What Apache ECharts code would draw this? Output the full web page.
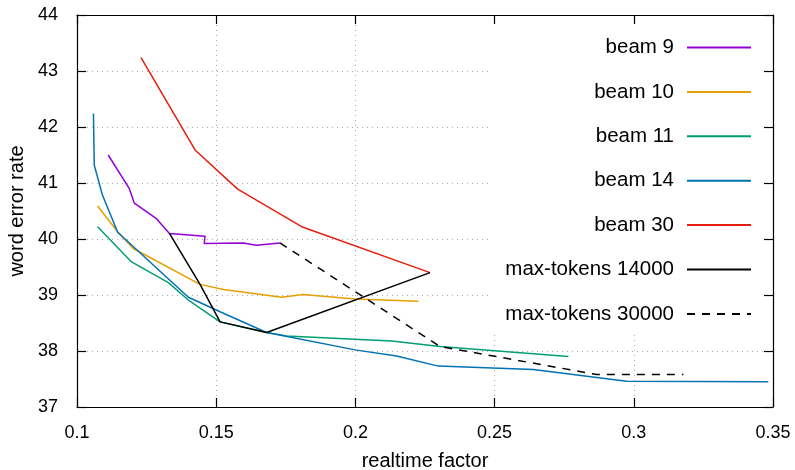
<!DOCTYPE html>
<html>
<head>
<meta charset="utf-8">
<script src="https://cdn.jsdelivr.net/npm/echarts@6/dist/echarts.min.js"></script>
<style>html,body{margin:0;padding:0;background:#fff}#c{width:795px;height:470px}</style>
</head>
<body>
<div id="c"></div>
<script>
const xTicks = [0.1, 0.15, 0.2, 0.25, 0.3, 0.35];
const yTicks = [37, 38, 39, 40, 41, 42, 43, 44];
const seriesNames = ['beam 9', 'beam 10', 'beam 11', 'beam 14', 'beam 30', 'max-tokens 14000', 'max-tokens 30000'];
const beam9 = [[0.1112,41.50],[0.1187,40.91],[0.1206,40.64],[0.1284,40.37],[0.1332,40.10],[0.1460,40.05],[0.1457,39.92],[0.1597,39.93],[0.1645,39.89],[0.1729,39.93]];
const beam10 = [[0.1074,40.59],[0.1146,40.13],[0.1202,39.83],[0.1442,39.19],[0.1526,39.10],[0.1735,38.96],[0.1811,39.01],[0.1999,38.93],[0.2226,38.89]];
const beam11 = [[0.1074,40.22],[0.1196,39.59],[0.1328,39.22],[0.1400,38.91],[0.1514,38.52],[0.1681,38.33],[0.1753,38.27],[0.2130,38.18],[0.2304,38.08],[0.2765,37.90]];
const beam14 = [[0.1059,42.24],[0.1062,41.32],[0.1091,40.79],[0.1146,40.12],[0.1400,38.96],[0.1514,38.70],[0.1681,38.33],[0.1999,38.02],[0.2148,37.91],[0.2298,37.73],[0.2639,37.67],[0.2974,37.46],[0.3483,37.45]];
const beam30 = [[0.1230,43.24],[0.1424,41.59],[0.1577,40.89],[0.1807,40.22],[0.2268,39.40]];
const maxTok14000 = [[0.1332,40.10],[0.1442,39.19],[0.1514,38.52],[0.1681,38.33],[0.2268,39.40]];
const maxTok30000 = [[0.1729,39.93],[0.2304,38.08],[0.2867,37.58],[0.3178,37.58]];

const colors = ['#9400d3', '#e69f00', '#009e73', '#0072b2', '#e51e10', '#000000', '#000000'];
const datas = [beam9, beam10, beam11, beam14, beam30, maxTok14000, maxTok30000];
const FONT = 'Liberation Sans, Arial, Helvetica, sans-serif';

const chart = echarts.init(document.getElementById('c'), null, {renderer: 'canvas'});
const xMin = xTicks[0], xMax = xTicks[xTicks.length - 1];
const yMin = yTicks[0], yMax = yTicks[yTicks.length - 1];
const frameAxis = {
  axisLine: {show: true, onZero: false, lineStyle: {color: '#000', width: 1.2}},
  axisTick: {show: true, inside: true, length: 9, lineStyle: {color: '#000', width: 1.2}},
  axisLabel: {show: false},
  splitLine: {show: false}
};
chart.setOption({
  animation: false,
  backgroundColor: '#fff',
  grid: {left: 77, right: 22, top: 15, bottom: 63, containLabel: false, outerBoundsMode: 'none'},
  xAxis: [
    {type: 'value', min: xMin, max: xMax, interval: 0.05, position: 'bottom',
     name: 'realtime factor', nameLocation: 'middle', nameGap: 44,
     nameTextStyle: {fontSize: 20, color: '#000', fontFamily: FONT},
     axisLine: {show: true, onZero: false, lineStyle: {color: '#000', width: 1.2}},
     axisTick: {show: true, inside: true, length: 9, lineStyle: {color: '#000', width: 1.2}},
     axisLabel: {fontSize: 18, color: '#000', fontFamily: FONT, margin: 17,
       formatter: v => String(+v.toFixed(2))},
     splitLine: {show: true, lineStyle: {color: '#aaa', width: 1, type: [1, 4]}}},
    Object.assign({type: 'value', min: xMin, max: xMax, interval: 0.05, position: 'top', z: 10}, frameAxis)
  ],
  yAxis: [
    {type: 'value', min: yMin, max: yMax, interval: 1, position: 'left',
     name: 'word error rate', nameLocation: 'middle', nameGap: 50,
     nameTextStyle: {fontSize: 20, color: '#000', fontFamily: FONT},
     axisLine: {show: true, onZero: false, lineStyle: {color: '#000', width: 1.2}},
     axisTick: {show: true, inside: true, length: 9, lineStyle: {color: '#000', width: 1.2}},
     axisLabel: {fontSize: 18, color: '#000', fontFamily: FONT, margin: 19},
     splitLine: {show: true, lineStyle: {color: '#aaa', width: 1, type: [1, 4]}}},
    Object.assign({type: 'value', min: yMin, max: yMax, interval: 1, position: 'right', z: 10}, frameAxis)
  ],
  legend: {
    orient: 'vertical', right: 22, top: 15, align: 'right',
    padding: [22, 21, 8, 15],
    backgroundColor: '#fff',
    itemWidth: 64, itemHeight: 20, itemGap: 23.4,
    itemStyle: {opacity: 0},
    textStyle: {fontSize: 20.5, color: '#000', fontFamily: FONT, lineHeight: 20, padding: [0, 8, 0, 0]},
    data: seriesNames
  },
  series: datas.map((d, i) => ({
    name: seriesNames[i], type: 'line', data: d, showSymbol: false, symbol: 'none',
    color: colors[i],
    lineStyle: {color: colors[i], width: 1.5, type: i === 6 ? [8, 7] : 'solid'},
    z: 2
  }))
});
</script>
</body>
</html>
